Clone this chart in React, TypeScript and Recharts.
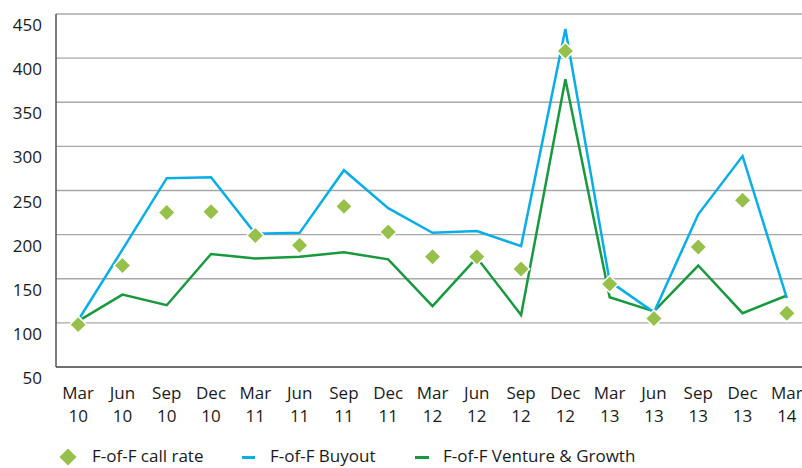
import { CartesianGrid, ComposedChart, Line, XAxis, YAxis } from "recharts"

const quarters = [
  "Mar 10", "Jun 10", "Sep 10", "Dec 10",
  "Mar 11", "Jun 11", "Sep 11", "Dec 11",
  "Mar 12", "Jun 12", "Sep 12", "Dec 12",
  "Mar 13", "Jun 13", "Sep 13", "Dec 13",
  "Mar 14",
]

const callRate = [98, 165, 225, 226, 199, 188, 232, 203, 175, 175, 161, 408, 144, 105, 186, 239, 111]
const buyout = [103, 183, 264, 265, 201, 202, 273, 230, 202, 204, 187, 433, 147, 112, 223, 289, 128]
const venture = [102, 132, 120, 178, 173, 175, 180, 172, 119, 174, 109, 376, 129, 113, 165, 111, 131]

const yTicks = [50, 100, 150, 200, 250, 300, 350, 400, 450]

const data = quarters.map((q, i) => ({
  name: q,
  "F-of-F call rate": callRate[i],
  "F-of-F Buoyout": buyout[i],
  "F-of-F Venture & Growth": venture[i],
}))

const FONT = "'Open Sans', sans-serif"
const TEXT = "#1a1a1a"
const BLUE = "#0aaee6"
const GREEN = "#18993f"
const LIME = "#96c04a"

const Diamond = (props: any) => {
  const { cx, cy } = props
  if (cx == null || cy == null) return null
  const r = 8.5
  return (
    <path
      d={`M${cx},${cy - r}L${cx + r},${cy}L${cx},${cy + r}L${cx - r},${cy}Z`}
      fill={LIME}
      stroke="#fff"
      strokeWidth={1.5}
    />
  )
}

const YTick = (props: any) => {
  const { x, y, payload } = props
  return (
    <text x={x} y={y} dx={-6} dy={17} textAnchor="end" fill={TEXT} fontSize={17} fontFamily={FONT}>
      {payload.value}
    </text>
  )
}

const XTick = (props: any) => {
  const { x, y, payload } = props
  const [m, yr] = String(payload.value).split(" ")
  return (
    <text x={x} y={y} textAnchor="middle" fill={TEXT} fontSize={17} fontFamily={FONT}>
      <tspan x={x} dy={24}>{m}</tspan>
      <tspan x={x} dy={22.6}>{yr}</tspan>
    </text>
  )
}

function Legend() {
  const item = { position: "absolute" as const, top: 444, fontSize: 17, lineHeight: "23px", fontFamily: FONT, color: TEXT, whiteSpace: "nowrap" as const }
  return (
    <>
      <svg style={{ position: "absolute", left: 58, top: 447 }} width={20} height={20}>
        <path d="M10,1.5L18.5,10L10,18.5L1.5,10Z" fill={LIME} />
      </svg>
      <span style={{ ...item, left: 92 }}>F-of-F call rate</span>
      <div style={{ position: "absolute", left: 242, top: 456, width: 13, height: 3, background: BLUE }} />
      <span style={{ ...item, left: 270 }}>F-of-F Buyout</span>
      <div style={{ position: "absolute", left: 415, top: 456, width: 14, height: 3, background: GREEN }} />
      <span style={{ ...item, left: 443 }}>F-of-F Venture &amp; Growth</span>
    </>
  )
}

export default function App() {
  return (
    <div style={{ position: "absolute", left: 0, top: 0, width: 802, height: 468, overflow: "hidden", background: "#fff" }}>
      <ComposedChart width={809} height={468} data={data} margin={{ top: 14, right: 0, bottom: 41, left: 0 }}>
        <CartesianGrid vertical={false} stroke="#a8a8a8" strokeWidth={1.3} />
        <XAxis
          dataKey="name"
          scale="band"
          interval={0}
          tickLine={false}
          axisLine={{ stroke: "#555", strokeWidth: 1.5 }}
          tick={<XTick />}
          height={60}
        />
        <YAxis
          type="number"
          domain={[50, 450]}
          ticks={yTicks}
          interval={0}
          tickLine={false}
          axisLine={{ stroke: "#555", strokeWidth: 1.5 }}
          tick={<YTick />}
          width={56}
        />
        <Line
          type="linear"
          dataKey="F-of-F Venture & Growth"
          stroke={GREEN}
          strokeWidth={2.5}
          dot={false}
          isAnimationActive={false}
        />
        <Line
          type="linear"
          dataKey="F-of-F Buoyout"
          stroke={BLUE}
          strokeWidth={2.5}
          dot={false}
          isAnimationActive={false}
        />
        <Line
          type="linear"
          dataKey="F-of-F call rate"
          stroke="none"
          dot={<Diamond />}
          isAnimationActive={false}
        />
      </ComposedChart>
      <Legend />
    </div>
  )
}
